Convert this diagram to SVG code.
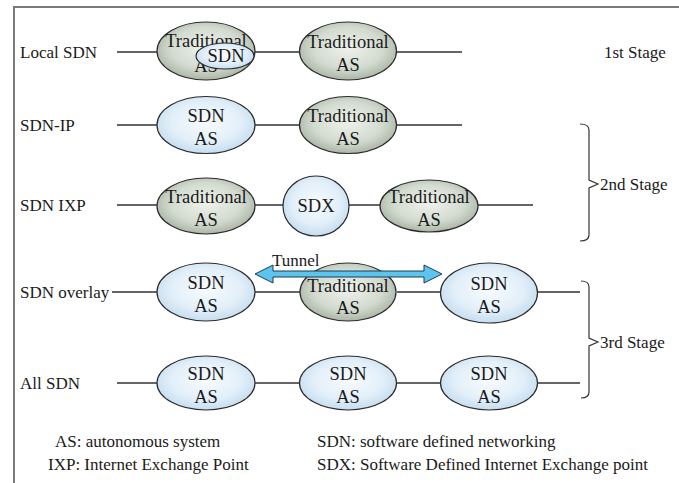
<svg xmlns="http://www.w3.org/2000/svg" width="679" height="483" viewBox="0 0 679 483">
<defs>
<radialGradient id="gTrad" cx="50%" cy="45%" r="55%">
<stop offset="0" stop-color="#eef2eb"/>
<stop offset="0.65" stop-color="#d3dbd0"/>
<stop offset="1" stop-color="#aab6a6"/>
</radialGradient>
<radialGradient id="gSdn" cx="50%" cy="45%" r="55%">
<stop offset="0" stop-color="#f7fbfe"/>
<stop offset="0.65" stop-color="#e2eff9"/>
<stop offset="1" stop-color="#c5ddef"/>
</radialGradient>
<style>
.trad{fill:url(#gTrad);stroke:#2b2b2b;stroke-width:1.2}
.sdn{fill:url(#gSdn);stroke:#2b2b2b;stroke-width:1.2}
.ln{stroke:#333;stroke-width:1.3;fill:none}
.frame{stroke:#7a7a7a;stroke-width:2;fill:none}
.br{stroke:#333;stroke-width:1.2;fill:none}
.t{fill:#1a1a1a;font-family:'Liberation Serif','Times New Roman',serif}
.nt{font-size:18.5px;text-anchor:middle}
.lb{font-size:17px}
.lg{font-size:17px}
.arrow{fill:#5cc5ee;stroke:#1d3b52;stroke-width:1}
</style>
</defs>
<rect width="679" height="483" fill="#ffffff"/>
<path class="frame" d="M14,483 L14,7 L679,7"/>

<g id="connectors">
<path class="ln" d="M117,52 H157 M255,52 H300 M397,52 H462"/>
<path class="ln" d="M117,125 H157 M255,125 H300 M397,125 H462"/>
<path class="ln" d="M117,205 H157 M255,205 H283 M349,205 H380 M478,205 H533"/>
<path class="ln" d="M112,292 H157 M255,292 H300 M397,292 H441 M538,292 H580"/>
<path class="ln" d="M117,383 H157 M255,383 H300 M397,383 H441 M538,383 H580"/>
</g>

<g id="labels">
<text class="t lb" x="20" y="58">Local SDN</text>
<text class="t lb" x="20" y="131">SDN-IP</text>
<text class="t lb" x="20" y="211">SDN IXP</text>
<text class="t lb" x="20" y="298">SDN overlay</text>
<text class="t lb" x="20" y="389">All SDN</text>
</g>

<g id="r1-trad1">
<ellipse class="trad" cx="206" cy="51" rx="49" ry="29"/>
<text class="t nt" x="206" y="47">Traditional</text>
<text class="t nt" x="206" y="72">AS</text>
</g>
<g id="r1-sdn-local">
<ellipse class="sdn" cx="225" cy="56" rx="29" ry="13"/>
<text class="t nt" x="226" y="62">SDN</text>
</g>
<g id="r1-trad2">
<ellipse class="trad" cx="348" cy="51" rx="48.5" ry="29"/>
<text class="t nt" x="348" y="48">Traditional</text>
<text class="t nt" x="348" y="71">AS</text>
</g>

<g id="r2-sdn1">
<ellipse class="sdn" cx="206" cy="125" rx="49" ry="28.5"/>
<text class="t nt" x="206" y="122">SDN</text>
<text class="t nt" x="206" y="145">AS</text>
</g>
<g id="r2-trad2">
<ellipse class="trad" cx="348" cy="125" rx="48.5" ry="28.5"/>
<text class="t nt" x="348" y="122">Traditional</text>
<text class="t nt" x="348" y="145">AS</text>
</g>

<g id="r3-trad1">
<ellipse class="trad" cx="206" cy="206" rx="49" ry="28"/>
<text class="t nt" x="206" y="203">Traditional</text>
<text class="t nt" x="206" y="226">AS</text>
</g>
<g id="r3-sdx">
<ellipse class="sdn" cx="316" cy="206" rx="33" ry="30"/>
<text class="t nt" x="316" y="212">SDX</text>
</g>
<g id="r3-trad2">
<ellipse class="trad" cx="429" cy="206" rx="49" ry="26"/>
<text class="t nt" x="429" y="203">Traditional</text>
<text class="t nt" x="429" y="226">AS</text>
</g>

<g id="r4-sdn1">
<ellipse class="sdn" cx="206" cy="292" rx="49" ry="29"/>
<text class="t nt" x="206" y="289">SDN</text>
<text class="t nt" x="206" y="312">AS</text>
</g>
<g id="r4-trad">
<ellipse class="trad" cx="348" cy="292" rx="48" ry="29"/>
<text class="t nt" x="348" y="292">Traditional</text>
<text class="t nt" x="348" y="314">AS</text>
</g>
<g id="r4-sdn2">
<ellipse class="sdn" cx="489" cy="293" rx="48.5" ry="30"/>
<text class="t nt" x="489" y="290">SDN</text>
<text class="t nt" x="489" y="313">AS</text>
</g>

<g id="tunnel">
<path class="arrow" d="M255,274 L273,265 L273,271 L424,271 L424,265 L442,274 L424,283 L424,277 L273,277 L273,283 Z"/>
<text class="t lb" x="272" y="266">Tunnel</text>
</g>

<g id="r5-sdn1">
<ellipse class="sdn" cx="206" cy="383" rx="49" ry="27"/>
<text class="t nt" x="206" y="380">SDN</text>
<text class="t nt" x="206" y="403">AS</text>
</g>
<g id="r5-sdn2">
<ellipse class="sdn" cx="348" cy="383" rx="48.5" ry="27"/>
<text class="t nt" x="348" y="380">SDN</text>
<text class="t nt" x="348" y="403">AS</text>
</g>
<g id="r5-sdn3">
<ellipse class="sdn" cx="489" cy="383" rx="48.5" ry="27"/>
<text class="t nt" x="489" y="380">SDN</text>
<text class="t nt" x="489" y="403">AS</text>
</g>

<g id="stages">
<text class="t lb" x="604" y="58">1st Stage</text>
<path class="br" d="M580,124 Q589,124 589,130 L589,180 L598,184 L589,188 L589,235 Q589,241 580,241"/>
<text class="t lb" x="600" y="190">2nd Stage</text>
<path class="br" d="M581,281 Q589,281 589,287 L589,338 L598,342 L589,346 L589,392 Q589,398 581,398"/>
<text class="t lb" x="600" y="348">3rd Stage</text>
</g>

<g id="legend">
<text class="t lg" x="55" y="447">AS: autonomous system</text>
<text class="t lg" x="48" y="470">IXP: Internet Exchange Point</text>
<text class="t lg" x="317" y="447">SDN: software defined networking</text>
<text class="t lg" x="317" y="470">SDX: Software Defined Internet Exchange point</text>
</g>
</svg>
